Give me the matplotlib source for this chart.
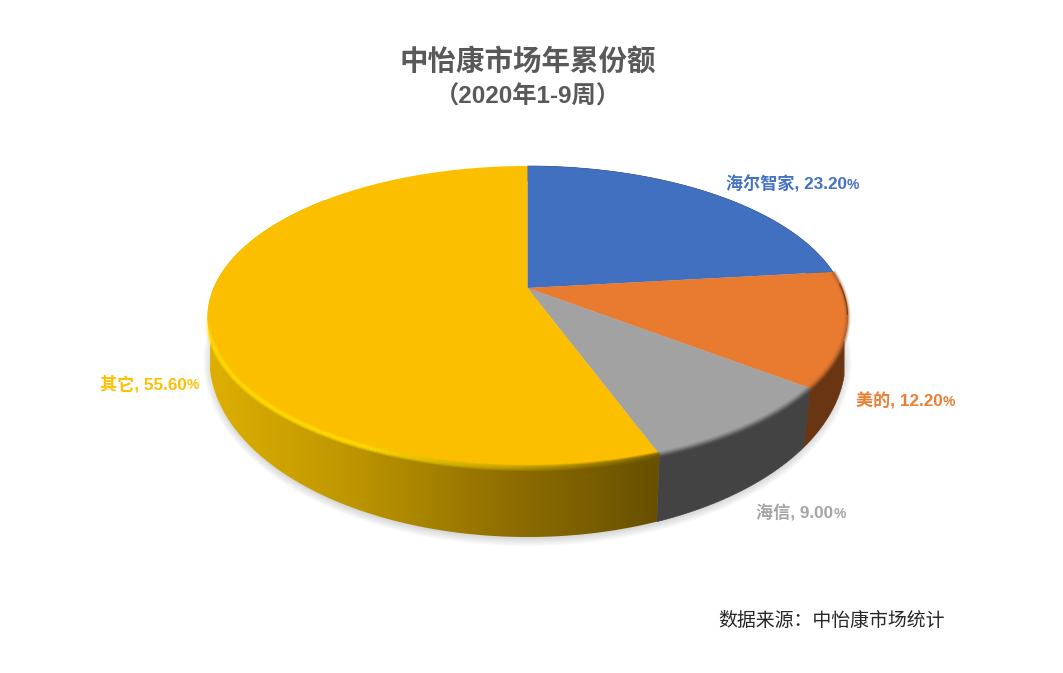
import numpy as np
import matplotlib
matplotlib.use("Agg")
import matplotlib.pyplot as plt
from matplotlib.collections import LineCollection
from matplotlib.patches import Polygon

plt.rcParams['font.family'] = ['Liberation Sans', 'Noto Sans CJK SC', 'DejaVu Sans']

brands = ["海尔智家", "美的", "海信", "其它"]
shares = [23.20, 12.20, 9.00, 55.60]
top_colors = ["#4270c0", "#e97b30", "#a2a2a2", "#fbbf00"]
wall_colors = ["#2a4476", "#6a3512", "#434343", "#8a6c00"]
rim_colors = ["#4472c4", "#b8622a", "#6e6e6e", "#ffdc00"]
label_colors = ["#4472c4", "#ed7d31", "#a5a5a5", "#ffc000"]
label_pos = [(726, 184), (856, 401), (756, 513), (100, 384)]

title = "中怡康市场年累份额"
subtitle = "（2020年1-9周）"
source = "数据来源：中怡康市场统计"

# colour of the yellow wall from left to right
grad_x = [210, 350, 500, 655]
grad_r = [222, 190, 145, 104]
grad_g = [175, 150, 112, 80]

# the disc is seen in perspective, so the apex is not at the ellipse centre
CX = 527.5
KP = 0.192
# outline of the lower edge of the wall
LOW_A = 318.0
LOW_B = 178.0
LOW_Y = 359.0


def project(theta, r=1.0):
    # theta in degrees, clockwise from 12 o'clock
    t = np.radians(theta)
    x = r * np.sin(t)
    y = r * np.cos(t)
    w = 1 + KP * y
    return CX + 314.0 * x / w, 288.0 - 145.4 * y / w


def low_edge(th, tx, ty):
    # wall edges lean inwards a little, more at the front
    lean = np.interp(th, [100, 127, 160, 250], [0.99, 0.978, 0.98, 0.992])
    dx = (tx - CX) * lean
    sign = np.where(ty > 317, 1.0, -1.0)
    return CX + dx, LOW_Y + sign * LOW_B * np.sqrt(np.clip(1 - (dx / LOW_A) ** 2, 0, 1))


fig = plt.figure(figsize=(10.63, 6.73), dpi=100)
ax = fig.add_axes([0, 0, 1, 1])

# soft shadow under the disc
ring = np.radians(np.linspace(0, 360, 400))
for i in range(14):
    grow = 6 - i * 0.9
    ax.fill(CX + (LOW_A + grow) * np.sin(ring), LOW_Y + 3 + (LOW_B + grow) * np.cos(ring),
            color="#6b6b6b", alpha=0.028, lw=0, zorder=1)

edges = np.concatenate([[0], np.cumsum(shares)]) / sum(shares) * 360

# side walls
for i in range(len(shares)):
    th = np.linspace(edges[i], edges[i + 1], int((edges[i + 1] - edges[i]) * 2))
    tx, ty = project(th)
    bx, by = low_edge(th, tx, ty)
    pts = np.column_stack([np.r_[tx, bx[::-1]], np.r_[ty, by[::-1]]])
    if brands[i] == "其它":
        xs = np.arange(200, 670)
        grad = np.zeros((1, len(xs), 3))
        grad[0, :, 0] = np.interp(xs, grad_x, grad_r) / 255
        grad[0, :, 1] = np.interp(xs, grad_x, grad_g) / 255
        im = ax.imshow(grad, extent=(200, 670, 560, 200), aspect="auto", zorder=2, interpolation="bilinear")
        clip = Polygon(pts, closed=True, transform=ax.transData, fc="none", ec="none")
        ax.add_patch(clip)
        im.set_clip_path(clip)
    else:
        ax.fill(pts[:, 0], pts[:, 1], color=wall_colors[i], lw=0.5, zorder=2)

# top faces
for i in range(len(shares)):
    th = np.linspace(edges[i], edges[i + 1], int((edges[i + 1] - edges[i]) * 2))
    tx, ty = project(th)
    ax0, ay0 = project(0, r=0.0)
    ax.fill(np.r_[ax0, tx], np.r_[ay0, ty], color=top_colors[i], lw=0, zorder=3)

# soft bevel along the front edge
for i in range(1, len(shares)):
    start = edges[i]
    stop = min(edges[i + 1], 259)
    th = np.linspace(start, stop, 220)
    x, y = project(th)
    for lw, al in ((4.5, 0.18), (3, 0.3), (1.8, 0.5)):
        if brands[i] == "其它":
            seg = np.stack([np.column_stack([x[:-1], y[:-1]]), np.column_stack([x[1:], y[1:]])], axis=1)
            fade = np.clip((th[:-1] - start) / 45, 0, 1)
            tail = np.clip((stop - th[:-1]) / 12, 0, 1)
            col = np.zeros((len(fade), 4))
            col[:, 0] = 0.45 + 0.55 * fade
            col[:, 1] = 0.36 + 0.50 * fade
            col[:, 3] = (al + 0.2) * tail
            ax.add_collection(LineCollection(seg, colors=col, linewidths=lw, capstyle="butt", zorder=4))
        else:
            ax.plot(x, y, color=rim_colors[i], lw=lw, alpha=al, solid_capstyle="butt", zorder=4)

# thin dark line on the right edge of the orange slice
x, y = project(np.linspace(edges[1] + 5, 100, 30))
ax.plot(x, y, color="#6a3512", lw=1.0, alpha=0.7, zorder=4)

ax.set_xlim(0, 1063)
ax.set_ylim(673, 0)
ax.axis("off")

# labels, the percent sign is set smaller than the digits
renderer = fig.canvas.get_renderer()
for name, share, col, (lx, ly) in zip(brands, shares, label_colors, label_pos):
    t = ax.text(lx, ly, f"{name}, {share:.2f}", color=col, fontsize=12.3, fontweight="bold",
                va="center", ha="left", zorder=5)
    right = ax.transData.inverted().transform(t.get_window_extent(renderer).get_points())[1, 0]
    ax.text(right, ly + 0.6, "%", color=col, fontsize=10, fontweight="bold", va="center", ha="left", zorder=5)

ax.text(528, 62, title, color="#595959", fontsize=20.5, fontweight="bold", ha="center", va="center")
ax.text(528, 97, subtitle, color="#595959", fontsize=17.5, fontweight="bold", ha="center", va="center")
ax.text(718, 621, source, color="#262626", fontsize=13.6, ha="left", va="center")

fig.savefig("out.png", dpi=100)
